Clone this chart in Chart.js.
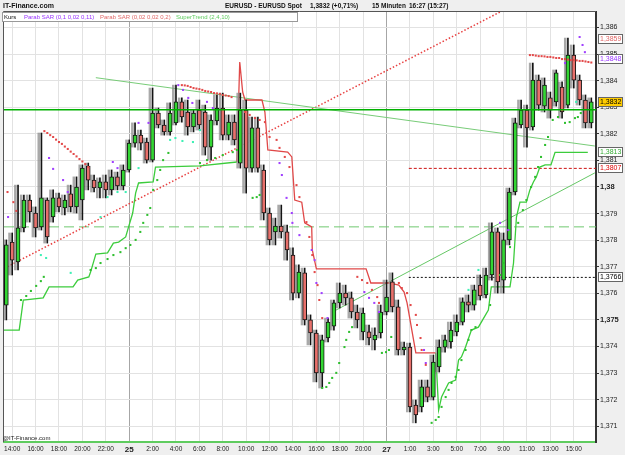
<!DOCTYPE html>
<html>
<head>
<meta charset="utf-8">
<script src="https://cdn.jsdelivr.net/npm/chart.js@4"></script>
<style>
html, body { margin: 0; padding: 0; background: #efefef; }
#wrap { position: relative; width: 625px; height: 455px; font-family: "Liberation Sans", Arial, sans-serif; }
#chart { position: absolute; left: 0; top: 0; }
.hdr { position: absolute; top: 1px; font-size: 6.5px; font-weight: bold; color: #111; white-space: pre; line-height: 9px; }
.leg { position: absolute; left: 2px; top: 12px; width: 294px; height: 8px; background: #fff; border: 1px solid #999; }
.leg span { position: absolute; top: 0; font-size: 6px; line-height: 8px; white-space: pre; }
.copy { position: absolute; left: 3px; top: 435px; font-size: 6px; color: #222; }
</style>
</head>
<body>
<div id="wrap">
  <canvas id="chart" width="625" height="455"></canvas>
  <div class="hdr" style="left:3px;font-size:7px">IT-Finance.com</div>
  <div class="hdr" style="left:225px">EURUSD - EURUSD Spot</div>
  <div class="hdr" style="left:310px">1,3832 (+0,71%)</div>
  <div class="hdr" style="left:372px">15 Minuten</div>
  <div class="hdr" style="left:409px">16:27 (15:27)</div>
  <div class="leg">
    <span style="left:1px;color:#111">Kurs</span>
    <span style="left:21px;color:#9933ff">Parab SAR (0,1 0,02 0,11)</span>
    <span style="left:97px;color:#e06a6a">Parab SAR (0,02 0,02 0,2)</span>
    <span style="left:173px;color:#5fcc5f">SuperTrend (2,4,10)</span>
  </div>
  <div class="copy">@IT-Finance.com</div>
</div>
<script>
// x axis: one unit = one 30 min bar
var xTickPos = [1, 5, 9, 13, 17, 21, 25, 29, 33, 37, 41, 45, 49, 53, 57, 61, 65, 69, 73, 77, 81, 85, 89, 93, 97];
var xTickText = ["14:00", "16:00", "18:00", "20:00", "22:00", "25", "2:00", "4:00", "6:00", "8:00", "10:00", "12:00",
  "14:00", "16:00", "18:00", "20:00", "27", "1:00", "3:00", "5:00", "7:00", "9:00", "11:00", "13:00", "15:00"];
var dayTickText = ["25", "27"];
var yTicks = [1.371, 1.372, 1.373, 1.374, 1.375, 1.376, 1.377, 1.378, 1.379, 1.380, 1.381, 1.382, 1.383, 1.384, 1.385, 1.386];
var yBoldTicks = [1.375, 1.380];

// candles
var opens = [1.37556,1.37793,1.37718,1.37846,1.37951,1.37902,1.37850,1.37951,1.37887,1.37959,
1.37921,1.37974,1.37925,1.37951,1.38079,1.38026,1.37996,1.38019,1.37989,1.38038,
1.38004,1.38064,1.38165,1.38195,1.38169,1.38101,1.38278,1.38233,1.38207,1.38241,
1.38320,1.38282,1.38226,1.38289,1.38282,1.38150,1.38248,1.38297,1.38195,1.38244,
1.38090,1.38289,1.38071,1.38222,1.38064,1.37902,1.37831,1.37853,1.37831,1.37744,
1.37601,1.37677,1.37500,1.37451,1.37301,1.37432,1.37477,1.37564,1.37601,1.37583,
1.37530,1.37455,1.37455,1.37425,1.37451,1.37530,1.37643,1.37549,1.37387,1.37398,
1.37180,1.37173,1.37248,1.37210,1.37323,1.37398,1.37417,1.37455,1.37492,1.37568,
1.37556,1.37631,1.37594,1.37669,1.37831,1.37650,1.37801,1.37981,1.38233,1.38289,
1.38226,1.38402,1.38304,1.38335,1.38320,1.38376,1.38308,1.38496,1.38402,1.38327,
1.38241];
var highs = [1.37801,1.37827,1.38007,1.37970,1.37970,1.37925,1.38203,1.37959,1.37989,1.37977,
1.37970,1.38007,1.38038,1.38083,1.38090,1.38045,1.38034,1.38045,1.38064,1.38056,
1.38083,1.38177,1.38241,1.38214,1.38184,1.38372,1.38297,1.38252,1.38316,1.38383,
1.38335,1.38327,1.38289,1.38327,1.38308,1.38271,1.38346,1.38353,1.38271,1.38271,
1.38353,1.38327,1.38263,1.38263,1.38083,1.37921,1.37883,1.37932,1.37857,1.37771,
1.37707,1.37695,1.37519,1.37462,1.37443,1.37507,1.37575,1.37639,1.37631,1.37605,
1.37556,1.37545,1.37481,1.37470,1.37556,1.37650,1.37677,1.37575,1.37417,1.37413,
1.37199,1.37274,1.37274,1.37368,1.37425,1.37443,1.37492,1.37519,1.37583,1.37594,
1.37631,1.37669,1.37695,1.37865,1.37846,1.37827,1.37996,1.38259,1.38327,1.38308,
1.38466,1.38421,1.38410,1.38357,1.38440,1.38395,1.38560,1.38534,1.38421,1.38346,
1.38335];
var lows = [1.37500,1.37669,1.37688,1.37831,1.37868,1.37812,1.37838,1.37789,1.37868,1.37906,
1.37895,1.37906,1.37902,1.37876,1.37989,1.37981,1.37959,1.37959,1.37970,1.37989,
1.37989,1.38056,1.38150,1.38139,1.38090,1.38094,1.38222,1.38195,1.38195,1.38233,
1.38244,1.38195,1.38207,1.38214,1.38120,1.38101,1.38233,1.38177,1.38177,1.38158,
1.38071,1.37977,1.38056,1.38056,1.37876,1.37782,1.37782,1.37808,1.37725,1.37575,
1.37583,1.37481,1.37406,1.37267,1.37244,1.37417,1.37462,1.37545,1.37556,1.37507,
1.37470,1.37425,1.37406,1.37387,1.37432,1.37519,1.37530,1.37368,1.37368,1.37154,
1.37113,1.37154,1.37192,1.37199,1.37304,1.37379,1.37394,1.37440,1.37481,1.37530,
1.37537,1.37575,1.37583,1.37650,1.37601,1.37601,1.37782,1.37970,1.38222,1.38150,
1.38214,1.38289,1.38282,1.38259,1.38304,1.38259,1.38297,1.38372,1.38308,1.38222,
1.38222];
var closes = [1.37782,1.37725,1.37846,1.37951,1.37906,1.37846,1.37959,1.37812,1.37959,1.37925,
1.37951,1.37925,1.38000,1.38071,1.38026,1.37996,1.38019,1.37989,1.38038,1.38004,
1.38064,1.38165,1.38195,1.38165,1.38101,1.38278,1.38233,1.38207,1.38278,1.38320,
1.38263,1.38226,1.38278,1.38233,1.38150,1.38252,1.38297,1.38195,1.38244,1.38177,
1.38289,1.38071,1.38222,1.38071,1.37902,1.37801,1.37853,1.37831,1.37763,1.37601,
1.37680,1.37500,1.37451,1.37301,1.37425,1.37492,1.37564,1.37601,1.37583,1.37530,
1.37500,1.37526,1.37432,1.37443,1.37530,1.37586,1.37549,1.37387,1.37398,1.37173,
1.37143,1.37248,1.37210,1.37342,1.37398,1.37425,1.37462,1.37492,1.37568,1.37556,
1.37613,1.37590,1.37669,1.37831,1.37643,1.37801,1.37981,1.38241,1.38289,1.38222,
1.38402,1.38308,1.38383,1.38289,1.38429,1.38282,1.38496,1.38402,1.38327,1.38241,
1.38320];

// SuperTrend (2,4,10)
var stUp1X = [-0.9, 2.2, 2.9, 6.3, 7.3, 11.4, 12.2, 14.1, 14.4, 15.3, 17.3, 18.3, 19.2, 20.4, 20.9, 21.6, 22.1, 22.6, 25.1, 25.5, 33.1, 39.4];
var stUp1Y = [1.37462, 1.37462, 1.37575, 1.37583, 1.37624, 1.37624, 1.37650, 1.37662, 1.37680, 1.37748, 1.37752, 1.37789, 1.37793, 1.37812, 1.37850, 1.37902, 1.37977, 1.38015, 1.38019, 1.38075, 1.38079, 1.38094];
var stDownX = [39.4, 39.9, 40.4, 40.8, 43.7, 44.2, 44.7, 48.1, 48.8, 49.3, 50.5, 51.0, 52.2, 52.3, 53.0, 61.5, 62.3, 65.4, 67.1, 68.0, 68.5, 70.0, 73.4];
var stDownY = [1.38094, 1.38470, 1.38357, 1.38327, 1.38327, 1.38282, 1.38139, 1.38131, 1.38113, 1.37951, 1.37943, 1.37865, 1.37850, 1.37763, 1.37692, 1.37692, 1.37639, 1.37639, 1.37631, 1.37605, 1.37564, 1.37376, 1.37376];
var stUp2X = [73.4, 73.9, 74.4, 75.6, 76.8, 77.3, 77.8, 78.5, 79.5, 80.7, 82.4, 82.9, 86.1, 86.7, 87.2, 87.8, 88.9, 89.5, 90.1, 90.6, 91.2, 92.1, 93.1, 93.8, 99.4];
var stUp2Y = [1.37376, 1.37161, 1.37210, 1.37263, 1.37274, 1.37349, 1.37361, 1.37398, 1.37462, 1.37473, 1.37537, 1.37624, 1.37624, 1.37714, 1.37887, 1.37943, 1.37943, 1.37989, 1.38019, 1.38038, 1.38075, 1.38083, 1.38083, 1.38130, 1.38130];

// Parabolic SAR dots
var sarRedX = [0.2, 1.2, 1.7,
  6.5, 7, 7.5, 8, 8.5, 9, 9.5, 10, 10.5, 11, 11.5, 12, 12.5, 13, 13.5, 14,
  30, 30.5, 31, 31.5, 32, 32.5, 33, 33.5, 34, 34.5, 35, 35.5, 36, 36.5, 37, 37.5, 38, 38.5,
  40.8, 41.6, 42.5, 43.3, 44.2, 45.0, 46.2, 46.7, 47.6, 48.4, 49.6, 50.1, 51.3, 51.8, 52.3, 52.7, 53.2, 53.5, 54.0,
  60.0, 60.8, 61.7, 62.5, 63.4, 63.7,
  67.1, 67.6, 68.5, 69.1, 70.0, 70.2, 70.8, 71.0, 71.7,
  89.5, 90, 90.5, 91, 91.5, 92, 92.5, 93, 93.5, 94, 94.5, 95, 95.5, 96, 96.5, 97, 97.5, 98, 98.5, 99, 99.5, 100];
var sarRedY = [1.37981, 1.37943, 1.37910,
  1.38210, 1.38203, 1.38195, 1.38188, 1.38178, 1.38169, 1.38162, 1.38152, 1.38143, 1.38133, 1.38124, 1.38115, 1.38105, 1.38096, 1.38086, 1.38075,
  1.38383, 1.38382, 1.38380, 1.38376, 1.38372, 1.38370, 1.38368, 1.38365, 1.38361, 1.38359, 1.38357, 1.38353, 1.38352, 1.38350, 1.38346, 1.38344, 1.38342, 1.38338,
  1.38282, 1.38271, 1.38259, 1.38252, 1.38244, 1.38188, 1.38177, 1.38147, 1.38113, 1.38075, 1.38007, 1.37962, 1.37868, 1.37812, 1.37744, 1.37680, 1.37631, 1.37575, 1.37507,
  1.37662, 1.37650, 1.37639, 1.37613, 1.37586, 1.37564,
  1.37639, 1.37620, 1.37601, 1.37556, 1.37519, 1.37481, 1.37432, 1.37387, 1.37331,
  1.38496, 1.38496, 1.38494, 1.38492, 1.38492, 1.38491, 1.38489, 1.38489, 1.38487, 1.38485, 1.38485, 1.38481, 1.38481, 1.38479, 1.38477, 1.38477, 1.38476, 1.38474, 1.38474, 1.38472, 1.38470, 1.38468];
var sarGreenX = [2.5, 3.4, 4.2, 5.1, 5.9, 6.4,
  14.4, 15.3, 16.1, 17.3, 18.3, 19.5, 20.4, 21.2, 22.1, 22.9, 23.4, 24.1, 24.6, 25.1, 25.8, 26.3, 26.8, 27.7,
  33.1, 34.3, 35.7, 37.0, 38.7, 39.4, 42.1, 42.8, 43.3,
  54.0, 54.7, 55.2, 55.7, 56.4, 56.9, 57.8, 58.1, 58.6, 59.1,
  64.2, 64.9, 65.4, 65.8,
  72.7, 73.4, 73.9, 74.4, 75.1, 75.6, 76.1, 76.8, 77.3, 77.8, 78.5, 79.0, 79.5, 80.2,
  82.7, 84.4, 85.0, 86.1, 87.5, 88.3, 88.9, 89.7, 90.4, 90.9, 91.4, 92.1, 92.6, 93.4, 94.3, 95.5, 96.3, 97.2, 97.7, 98.2];
var sarGreenY = [1.37575, 1.37590, 1.37609, 1.37628, 1.37646, 1.37662,
  1.37688, 1.37695, 1.37714, 1.37729, 1.37744, 1.37755, 1.37770, 1.37782, 1.37801, 1.37831, 1.37865, 1.37895, 1.37921, 1.37989, 1.38026, 1.38064, 1.38101, 1.38128,
  1.38090, 1.38101, 1.38109, 1.38120, 1.38131, 1.38139, 1.37959, 1.37962, 1.37970,
  1.37244, 1.37248, 1.37263, 1.37282, 1.37301, 1.37338, 1.37398, 1.37425, 1.37455, 1.37473,
  1.37376, 1.37379, 1.37387, 1.37436,
  1.37113, 1.37124, 1.37135, 1.37173, 1.37210, 1.37237, 1.37263, 1.37286, 1.37312, 1.37349, 1.37387, 1.37425, 1.37462, 1.37473,
  1.37556, 1.37669, 1.37714, 1.37774, 1.37865, 1.37913, 1.37951, 1.38000, 1.38038, 1.38075, 1.38113, 1.38158, 1.38188, 1.38252, 1.38263, 1.38241, 1.38244, 1.38259, 1.38263, 1.38278];
var sarPurpleX = [0.3, 7.3, 8.0, 9.7, 10.5, 18.2, 19.0, 22.6, 24.3, 29.4, 30.2, 31.1, 31.8, 34.3, 35.3,
  46.7, 47.1, 47.9, 48.8, 48.9, 50.1, 52.2, 52.7, 53.0, 53.9, 54.9, 61.2, 62.0, 62.9, 63.7, 71.4, 71.7,
  84.4, 85.8, 95.5, 98.0, 98.5, 98.9];
var sarPurpleY = [1.37887, 1.38109, 1.38068, 1.38026, 1.37981, 1.38094, 1.38071, 1.38241, 1.38241, 1.38383, 1.38365, 1.38335, 1.38316, 1.38320, 1.38297,
  1.38090, 1.38045, 1.37959, 1.37902, 1.37865, 1.37819, 1.37763, 1.37725, 1.37639, 1.37601, 1.37507, 1.37605, 1.37583, 1.37564, 1.37530, 1.37387, 1.37338,
  1.37865, 1.37838, 1.38466, 1.38564, 1.38534, 1.38507];
var sarCyanX = [5.9, 6.8, 11.0, 16.1, 17.3, 19.0, 20.4, 22.6, 28.0, 28.9, 30.1, 31.9, 33.1, 79.0, 80.7, 97.4];
var sarCyanY = [1.37744, 1.37733, 1.37677, 1.37887, 1.37962, 1.37981, 1.37981, 1.38071, 1.38177, 1.38184, 1.38173, 1.38169, 1.38214, 1.37613, 1.37688, 1.38320];

// drawn lines: [x0, y0, x1, y1]
var trendDown = [15.3, 1.38411, 100.6, 1.38154];
var trendUp = [56.1, 1.37534, 100.6, 1.38053];
var trendRed = [-0.9, 1.37688, 85.0, 1.38665];
var levelPrice = 1.3829;
var levelDashed = 1.3785;
var levelRed = 1.3807;
var levelBlack = 1.3766;
var levelStart = 68.8;

// value boxes on the price axis
var boxValues = [1.3859, 1.3848, 1.3832, 1.3813, 1.3807, 1.3766];
var boxText = ["1,3859", "1,3848", "1,3832", "1,3813", "1,3807", "1,3766"];

var xMin = -0.4, xMax = 100.8;
var boxStyle = [
  { fg: "#e06666", bg: "#ffffff", dy: 9 },
  { fg: "#9933ff", bg: "#ffffff", dy: 0 },
  { fg: "#000000", bg: "#ffcc00", dy: 0 },
  { fg: "#33aa33", bg: "#ffffff", dy: 0 },
  { fg: "#dd0000", bg: "#ffffff", dy: 0 },
  { fg: "#000000", bg: "#ffffff", dy: 0 }
];

function pts(xs, ys) {
  return xs.map(function (x, k) { return { x: x, y: ys[k] }; });
}
function seg(a) {
  return [{ x: a[0], y: a[1] }, { x: a[2], y: a[3] }];
}
function lineSet(data, color, width, dash, order) {
  return { type: "line", data: data, borderColor: color, borderWidth: width, borderDash: dash || [],
    pointRadius: 0, fill: false, tension: 0, order: order };
}
function dotSet(xs, ys, color) {
  return { type: "scatter", data: pts(xs, ys), pointStyle: "rect", pointRadius: 1.45,
    pointBackgroundColor: color, pointBorderWidth: 0, order: 2 };
}

var up = closes.map(function (c, i) { return c >= opens[i]; });
var wicks = lows.map(function (l, i) { return { x: i, y: [l, highs[i]] }; });
var bodies = opens.map(function (o, i) { return { x: i, y: [o, closes[i]] }; });
// grey shadow of each bar, just left of the candle
var shadows = lows.map(function (l, i) { return { x: i - 0.45, y: [l, highs[i]] }; });

var bgPlugin = {
  id: "bg",
  beforeDraw: function (chart) {
    var a = chart.chartArea, c = chart.ctx;
    c.save();
    c.fillStyle = "#ffffff";
    c.fillRect(a.left, a.top, a.right - a.left, a.bottom - a.top);
    c.restore();
  },
  afterDraw: function (chart) {
    var a = chart.chartArea, c = chart.ctx, ys = chart.scales.y;
    c.save();
    c.strokeStyle = "#555";
    c.lineWidth = 1;
    c.beginPath();
    c.moveTo(a.left - 0.5, a.bottom);
    c.lineTo(a.left - 0.5, a.top - 0.5);
    c.lineTo(a.right, a.top - 0.5);
    c.stroke();
    c.font = "7px 'Liberation Sans', Arial, sans-serif";
    c.textBaseline = "middle";
    boxValues.forEach(function (v, k) {
      var st = boxStyle[k];
      var py = Math.round(ys.getPixelForValue(v)) + st.dy;
      c.fillStyle = st.bg;
      c.fillRect(a.right + 2.5, py - 4.5, 24, 9);
      c.strokeStyle = "#666";
      c.strokeRect(a.right + 2.5, py - 4.5, 24, 9);
      c.fillStyle = st.fg;
      c.fillText(boxText[k], a.right + 4, py + 0.5);
    });
    c.restore();
  }
};

var ctx = document.getElementById("chart").getContext("2d");

var chart = new Chart(ctx, {
  type: "bar",
  data: {
    datasets: [
      lineSet([{ x: xMin, y: levelPrice }, { x: xMax, y: levelPrice }], "#00b000", 1.5, null, 1),
      dotSet(sarRedX, sarRedY, "#e34a4a"),
      dotSet(sarGreenX, sarGreenY, "#2fbf2f"),
      dotSet(sarPurpleX, sarPurpleY, "#a040ff"),
      dotSet(sarCyanX, sarCyanY, "#3ef0b4"),
      { type: "bar", data: bodies, grouped: false, barThickness: 4, minBarLength: 1,
        backgroundColor: up.map(function (u) { return u ? "#33d633" : "#e8706b"; }),
        borderColor: "#141414", borderWidth: 1, borderSkipped: false, order: 4 },
      { type: "bar", data: wicks, grouped: false, barThickness: 1,
        backgroundColor: "#141414", borderWidth: 0, order: 5 },
      { type: "bar", data: shadows, grouped: false, barThickness: 2,
        backgroundColor: "rgba(140,140,140,0.75)", borderWidth: 0, order: 5.5 },
      lineSet(pts(stUp1X, stUp1Y), "#3ccc3c", 1.3, null, 6),
      lineSet(pts(stDownX, stDownY), "#e04848", 1.3, null, 6),
      lineSet(pts(stUp2X, stUp2Y), "#3ccc3c", 1.3, null, 6),
      lineSet(seg(trendDown), "#78cc78", 1, null, 7),
      lineSet(seg(trendUp), "#66c866", 1, null, 7),
      lineSet(seg(trendRed), "#e84040", 1.5, [1.5, 2], 7),
      lineSet([{ x: xMin, y: levelDashed }, { x: xMax, y: levelDashed }], "#70c870", 1, [10, 5], 8),
      lineSet([{ x: levelStart, y: levelRed }, { x: xMax, y: levelRed }], "#cc1111", 1, [3, 2], 8),
      lineSet([{ x: levelStart, y: levelBlack }, { x: xMax, y: levelBlack }], "#111111", 1, [2, 2], 8)
    ]
  },
  options: {
    responsive: false,
    animation: false,
    layout: { padding: { left: 3, top: 12, right: 0, bottom: 0 } },
    plugins: { legend: { display: false }, tooltip: { enabled: false } },
    scales: {
      x: {
        type: "linear", min: xMin, max: xMax, offset: false,
        afterFit: function (s) { s.height = 13; },
        afterBuildTicks: function (s) { s.ticks = xTickPos.map(function (v) { return { value: v }; }); },
        grid: {
          offset: false,
          drawTicks: false,
          color: function (c) {
            var k = c.tick ? xTickPos.indexOf(c.tick.value) : -1;
            return k >= 0 && dayTickText.indexOf(xTickText[k]) >= 0 ? "#a6a6a6" : "#e2e2e2";
          }
        },
        border: { color: "#5fcc5f", width: 2 },
        ticks: {
          autoSkip: false, maxRotation: 0, padding: 3, color: "#222",
          font: function (c) {
            var k = c.tick ? xTickPos.indexOf(c.tick.value) : -1;
            var day = k >= 0 && dayTickText.indexOf(xTickText[k]) >= 0;
            return { family: "'Liberation Sans', Arial, sans-serif", size: day ? 8 : 6.5, weight: day ? "bold" : "normal" };
          },
          callback: function (v, k) { return xTickText[k]; }
        }
      },
      y: {
        type: "linear", position: "right", min: 1.37041, max: 1.38658,
        afterFit: function (s) { s.width = 29; },
        afterBuildTicks: function (s) { s.ticks = yTicks.map(function (v) { return { value: v }; }); },
        grid: { color: "#e2e2e2", tickColor: "#333", tickLength: 3 },
        border: { color: "#333", width: 2 },
        ticks: {
          autoSkip: false, padding: 1, color: "#222",
          font: function (c) {
            var b = c.tick && yBoldTicks.some(function (t) { return Math.abs(t - c.tick.value) < 1e-7; });
            return { family: "'Liberation Sans', Arial, sans-serif", size: b ? 7.5 : 7, weight: b ? "bold" : "normal" };
          },
          callback: function (v) { return String(parseFloat(v.toFixed(3))).replace(".", ","); }
        }
      }
    }
  },
  plugins: [bgPlugin]
});
</script>
</body>
</html>
